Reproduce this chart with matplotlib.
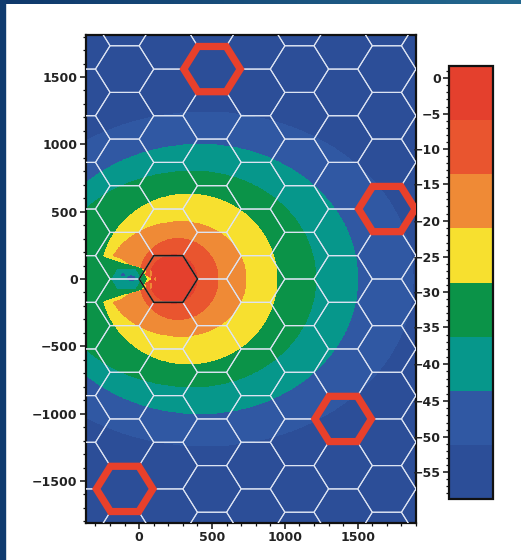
import numpy as np
import matplotlib
matplotlib.use('Agg')
import matplotlib.pyplot as plt
from matplotlib.collections import PolyCollection
from matplotlib.patches import Polygon, Rectangle
from matplotlib.path import Path
from matplotlib.ticker import MultipleLocator

# colour bands of the map (dB), lowest first
band_edges = [-58.8, -51.1, -43.6, -36.3, -28.6, -21.0, -13.6, -5.9, 1.7]
band_colors = ['#2c4e98', '#3058a3', '#06978b', '#0b9348',
               '#f7e02f', '#ef8a36', '#e9552f', '#e4402d']

# outer edge of each band above the floor (m):
# x of the top point, left reach, right reach, half height
bound_cx = [450, 420, 370, 335, 290, 265, 240]
bound_left = [-1000, -700, -600, -265, -220, 0, 70]
bound_right = [1880, 1500, 1212, 945, 733, 541, 395]
bound_half_h = [1240, 1000, 800, 630, 425, 300, 178]

# shadow behind the site: polygon outlines and the highest band inside each
shadow_yellow = [(95, 0), (-120, 150), (-250, 205), (-420, 245),
                 (-420, -245), (-250, -205), (-120, -150)]
shadow_green = [(60, 0), (20, 85), (-120, 125), (-250, 172), (-420, 210),
                (-420, -210), (-250, -172), (-120, -125), (20, -85)]
shadow_teal = [(20, 0), (-20, 75), (-150, 80), (-200, 0), (-150, -80), (-20, -75)]
shadows = [(shadow_yellow, 4), (shadow_green, 3), (shadow_teal, 2)]
# small speckles: x, y, rx, ry, highest band
spot_x = [-55, 35, 35, 80, 80, 110, -110, 10]
spot_y = [5, 55, -55, 40, -50, 0, 30, 0]
spot_rx = [35, 15, 15, 12, 12, 10, 20, 15]
spot_ry = [25, 25, 25, 30, 30, 20, 15, 40]
spot_cap = [1, 4, 4, 5, 5, 5, 1, 3]

# hexagonal layout
cell_radius = 200
home_cell = (0, 0)
red_cells = [(1, 4), (5, 1), (4, -3), (-1, -5)]

xlim = (-365, 1900)
ylim = (-1812, 1812)


def cell_centre(col, row):
    x = 200 + 1.5 * cell_radius * col
    y = np.sqrt(3) * cell_radius * (row + 0.5 * (col % 2))
    return x, y


def hex_vertices(cx, cy, r):
    a = np.radians(np.arange(0, 360, 60))
    return np.column_stack([cx + r * np.cos(a), cy + r * np.sin(a)])


# band index on a fine grid
gx = np.linspace(xlim[0], xlim[1], 1100)
gy = np.linspace(ylim[0], ylim[1], 1300)
X, Y = np.meshgrid(gx, gy)
band = np.zeros(X.shape, dtype=int)
for cx, xl, xr, hh in zip(bound_cx, bound_left, bound_right, bound_half_h):
    rx = np.where(X > cx, xr - cx, cx - xl)
    inside = ((X - cx) / rx) ** 2 + (Y / hh) ** 2 < 1
    band += inside

pts = np.column_stack([X.ravel(), Y.ravel()])
for poly, cap in shadows:
    m = Path(poly).contains_points(pts).reshape(X.shape)
    band = np.where(m, np.minimum(band, cap), band)
for sx, sy, rx, ry, cap in zip(spot_x, spot_y, spot_rx, spot_ry, spot_cap):
    m = ((X - sx) / rx) ** 2 + ((Y - sy) / ry) ** 2 < 1
    band = np.where(m, np.minimum(band, cap), band)

edges = np.array(band_edges)
mids = (edges[:-1] + edges[1:]) / 2
Z = mids[band]

fig = plt.figure(figsize=(5.21, 5.6), dpi=100)
fig.patch.set_facecolor('white')

# slide frame
fig.patches.append(Rectangle((0, 0), 5 / 521, 1, transform=fig.transFigure,
                             color='#0f3b6f', zorder=0))
top = fig.add_axes([0, 1 - 4 / 560, 1, 4 / 560])
top.imshow(np.linspace(0, 1, 256)[None, :], aspect='auto',
           cmap=matplotlib.colors.LinearSegmentedColormap.from_list('f', ['#0f386b', '#24698f']))
top.axis('off')

ax = fig.add_axes([86 / 521, 37 / 560, 330 / 521, 488 / 560])
cs = ax.contourf(X, Y, Z, levels=band_edges, colors=band_colors)

# hex grid
cols = range(-3, 9)
rows = range(-7, 8)
polys = [hex_vertices(*cell_centre(c, r), cell_radius) for c in cols for r in rows]
ax.add_collection(PolyCollection(polys, facecolors='none', edgecolors='#dde4f3',
                                 linewidths=0.8, zorder=3))
for c, r in red_cells:
    ax.add_patch(Polygon(hex_vertices(*cell_centre(c, r), cell_radius * 0.97),
                         closed=True, fill=False, edgecolor='#e8402b',
                         linewidth=5.2, joinstyle='miter', zorder=4))
ax.add_patch(Polygon(hex_vertices(*cell_centre(*home_cell), cell_radius),
                     closed=True, fill=False, edgecolor='#1a1a1a',
                     linewidth=1.2, zorder=5))

ax.set_xlim(xlim)
ax.set_ylim(ylim)
ax.xaxis.set_major_locator(MultipleLocator(500))
ax.xaxis.set_minor_locator(MultipleLocator(100))
ax.yaxis.set_major_locator(MultipleLocator(500))
ax.yaxis.set_minor_locator(MultipleLocator(100))

for s in ax.spines.values():
    s.set_linewidth(1.6)
    s.set_color('#111')

ax.tick_params(which='major', direction='out', length=4, width=1.1, color='#111', pad=2)
ax.tick_params(which='minor', direction='out', length=2.5, width=0.9, color='#111')
for lab in ax.get_xticklabels() + ax.get_yticklabels():
    lab.set_fontweight('bold')
    lab.set_fontsize(9)
    lab.set_color('#222')

cax = fig.add_axes([449 / 521, 61 / 560, 44 / 521, 433 / 560])
cb = fig.colorbar(cs, cax=cax)
cb.outline.set_linewidth(1.6)
cb.outline.set_edgecolor('#111')
cb.set_ticks(np.arange(0, -56, -5))
cax.yaxis.set_minor_locator(MultipleLocator(1))
cax.yaxis.set_ticks_position('left')
cax.yaxis.set_label_position('left')
cax.tick_params(which='major', direction='out', length=4, width=1.1, color='#111', pad=2)
cax.tick_params(which='minor', direction='out', length=2.5, width=0.9, color='#111')
for lab in cax.get_yticklabels():
    lab.set_fontweight('bold')
    lab.set_fontsize(9)
    lab.set_color('#222')

fig.savefig('out.png', dpi=100)
